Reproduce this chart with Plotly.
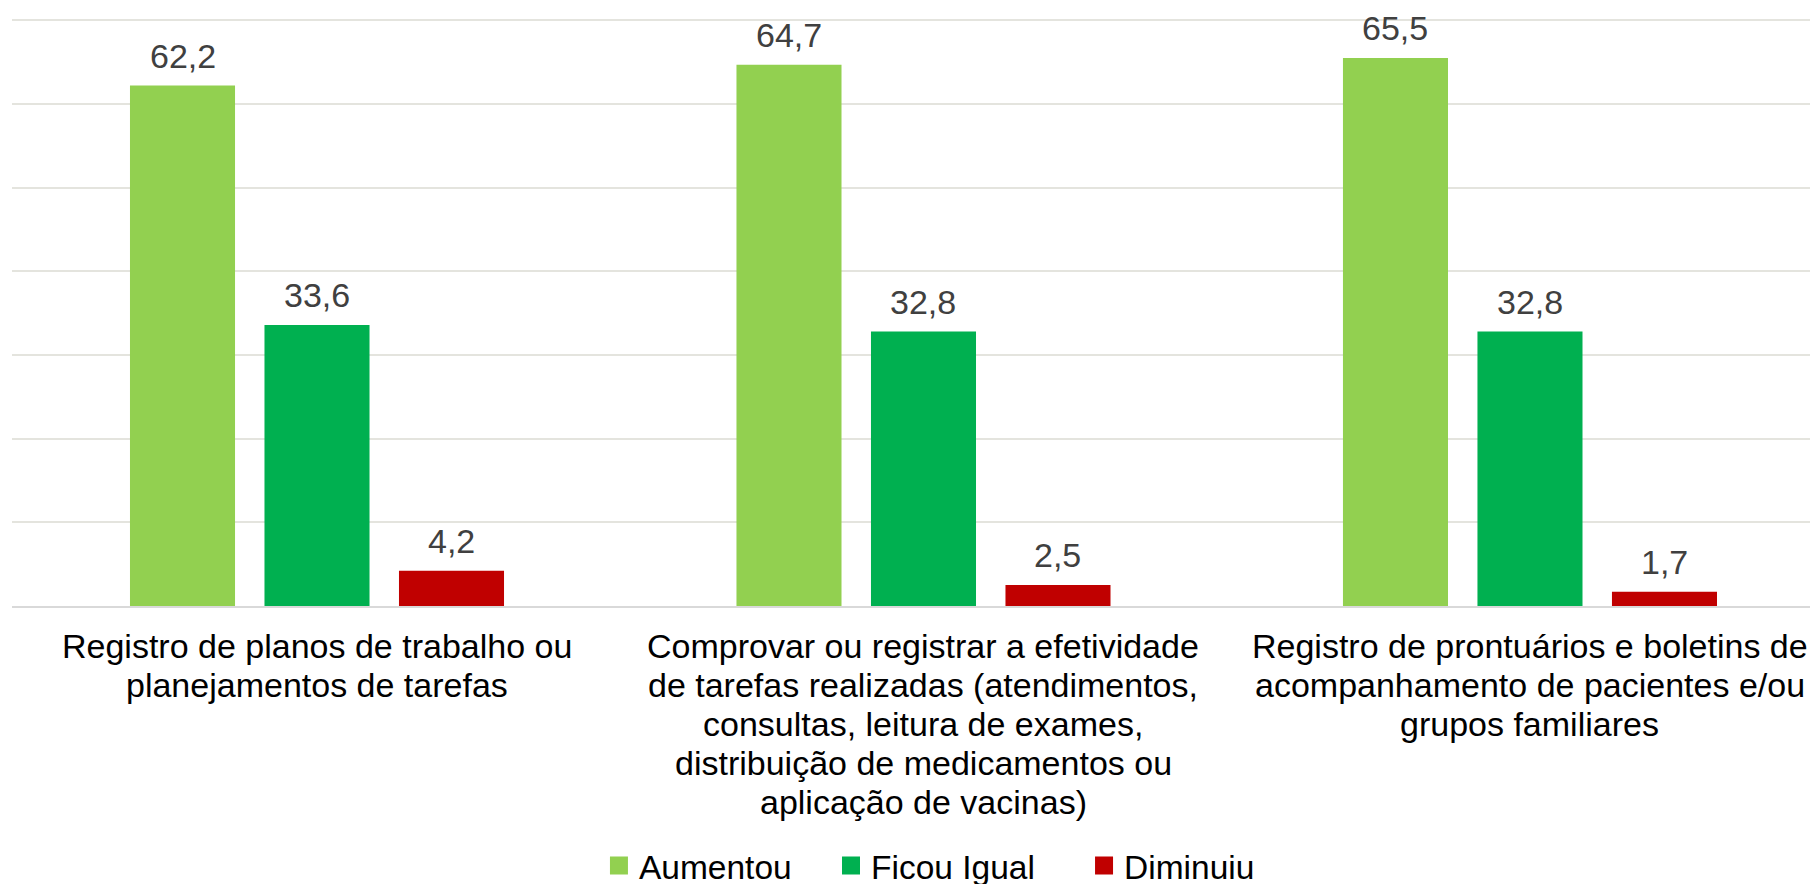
import plotly.graph_objects as go

categories = [
    "Registro de planos de trabalho ou<br>planejamentos de tarefas",
    "Comprovar ou registrar a efetividade<br>de tarefas realizadas (atendimentos,<br>consultas, leitura de exames,<br>distribuição de medicamentos ou<br>aplicação de vacinas)",
    "Registro de prontuários e boletins de<br>acompanhamento de pacientes e/ou<br>grupos familiares",
]
series_names = ["Aumentou", "Ficou Igual", "Diminuiu"]
aumentou = [62.2, 64.7, 65.5]
ficou_igual = [33.6, 32.8, 32.8]
diminuiu = [4.2, 2.5, 1.7]
series_values = [aumentou, ficou_igual, diminuiu]
colors = ["#92D050", "#00B050", "#C00000"]

FONT = "Liberation Sans, Arial, sans-serif"
BARGAP = 0.3347
BARGROUPGAP = 0.219
slot = (1 - BARGAP) / len(series_names)
legend_ids = ["legend", "legend2", "legend3"]
legend_x = [0.3250, 0.4535, 0.5936]

fig = go.Figure()
for name, vals, col in zip(series_names, series_values, colors):
    fig.add_trace(go.Bar(x=categories, y=vals, name=name, marker_color=col,
                         marker_line_width=0, hoverinfo="skip", showlegend=False))
# legend entries (square swatches)
for name, col, lid in zip(series_names, colors, legend_ids):
    fig.add_trace(go.Scatter(x=[None], y=[None], mode="markers", name=name,
                             marker=dict(symbol="square", size=16, color=col,
                                         line=dict(color=col, width=2)),
                             legend=lid, showlegend=True, hoverinfo="skip"))

annotations = []
# value labels
for j, vals in enumerate(series_values):
    for i, v in enumerate(vals):
        annotations.append(dict(
            x=i + (j - 1) * slot, y=v, xref="x", yref="y",
            text=f"{v:.1f}".replace(".", ","), showarrow=False,
            yanchor="bottom", yshift=9,
            font=dict(family=FONT, size=34, color="#404040"),
        ))
# category labels, one annotation per line
LINE_PITCH = 39
for i, cat in enumerate(categories):
    for k, line in enumerate(cat.split("<br>")):
        annotations.append(dict(
            x=i, y=0, xref="x", yref="paper", text=line, showarrow=False,
            xanchor="center", yanchor="middle", yshift=-(40 + k * LINE_PITCH),
            font=dict(family=FONT, size=34, color="#000000"),
        ))

legend_common = dict(orientation="h", xanchor="left", y=-0.4373, yanchor="middle",
                     font=dict(family=FONT, size=33.5, color="#000000"),
                     bgcolor="rgba(0,0,0,0)", borderwidth=0)

fig.update_layout(
    width=1810, height=900,
    margin=dict(l=4, r=0, t=4, b=301.5, autoexpand=False),
    paper_bgcolor="white", plot_bgcolor="white",
    barmode="group", bargap=BARGAP, bargroupgap=BARGROUPGAP,
    showlegend=True,
    legend=dict(x=legend_x[0], **legend_common),
    legend2=dict(x=legend_x[1], **legend_common),
    legend3=dict(x=legend_x[2], **legend_common),
    annotations=annotations,
    font=dict(family=FONT),
)
fig.update_xaxes(
    type="category", range=[-0.5029, 2.4749], automargin=False,
    showgrid=False, showline=True, linecolor="#D9D9D9", linewidth=2,
    ticks="", showticklabels=False, fixedrange=True,
)
fig.update_yaxes(
    range=[0, 71], dtick=10, showgrid=True, gridcolor="#E4E4DE", gridwidth=2,
    showticklabels=False, zeroline=False, showline=False, fixedrange=True, automargin=False,
)

fig.write_html("out.html")
